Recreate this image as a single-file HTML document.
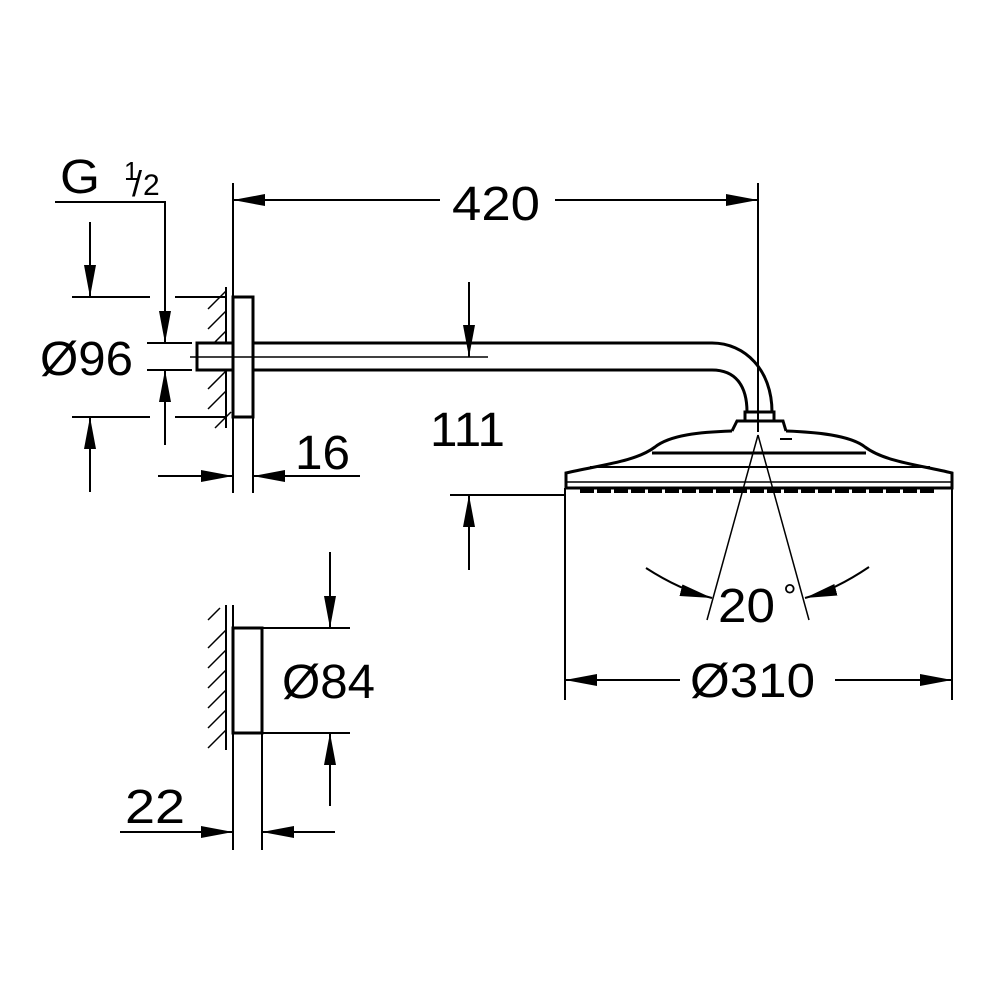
<!DOCTYPE html>
<html><head><meta charset="utf-8"><style>
html,body{margin:0;padding:0;background:#fff}
svg{display:block}
text{font-family:"Liberation Sans",sans-serif;fill:#000}
</style></head><body>
<svg width="1000" height="1000" viewBox="0 0 1000 1000" xmlns="http://www.w3.org/2000/svg">
<defs>
<marker id="a" viewBox="0 0 32 12" refX="32" refY="6" markerWidth="32" markerHeight="12" markerUnits="userSpaceOnUse" orient="auto"><path d="M0,0 L32,6 L0,12 z" fill="#000"/></marker>
</defs>
<g stroke="#000" fill="none" stroke-width="2">
<line x1="233" y1="183" x2="233" y2="493"/>
<line x1="253" y1="417" x2="253" y2="493"/>
<line x1="226" y1="287" x2="226" y2="428"/>
<g stroke-width="1.5">
<line x1="208" y1="309" x2="226" y2="291"/>
<line x1="208" y1="329" x2="226" y2="311"/>
<line x1="208" y1="349" x2="226" y2="331"/>
<line x1="208" y1="389" x2="226" y2="371"/>
<line x1="208" y1="409" x2="226" y2="391"/>
<line x1="215" y1="428" x2="231" y2="412"/>
</g>
<rect x="233" y="297" width="20" height="120" stroke-width="3"/>
<rect x="197" y="343" width="36" height="27" stroke-width="3" fill="#fff"/>
<path d="M253,343 L712,343 C745,343 772,370 772,412" stroke-width="3"/>
<path d="M253,370 L712,370 C735,370 747,385 747,412" stroke-width="3"/>
<line x1="190" y1="357" x2="488" y2="357" stroke-width="1.5"/>
<rect x="745" y="412" width="29" height="9" stroke-width="3"/>
<path d="M732,431 L737,421 L783,421 L786,431" stroke-width="3"/>
<path d="M732,431 C700,432 670,435 655,447 C635,462 600,465 566,473 L566,488 L952,488 L952,473 C920,465 885,462 865,447 C850,435 815,432 786,431" stroke-width="3"/>
<line x1="652" y1="453" x2="866" y2="453" stroke-width="3"/>
<line x1="590" y1="467" x2="930" y2="467" stroke-width="2"/>
<line x1="566" y1="482" x2="952" y2="482" stroke-width="1.5"/>
<line x1="780" y1="439" x2="792" y2="439"/>
<line x1="580" y1="491" x2="935" y2="491" stroke-width="4" stroke-dasharray="14,3"/>
<line x1="758" y1="183" x2="758" y2="432"/>
<line x1="758" y1="435" x2="707" y2="620" stroke-width="1.5"/>
<line x1="758" y1="435" x2="809" y2="620" stroke-width="1.5"/>
<line x1="440" y1="200" x2="233" y2="200" marker-end="url(#a)"/>
<line x1="555" y1="200" x2="758" y2="200" marker-end="url(#a)"/>
<polyline points="55,202 165,202 165,343" marker-end="url(#a)"/>
<line x1="72" y1="297" x2="150" y2="297"/><line x1="175" y1="297" x2="225" y2="297"/>
<line x1="72" y1="417" x2="150" y2="417"/><line x1="175" y1="417" x2="225" y2="417"/>
<line x1="90" y1="222" x2="90" y2="297" marker-end="url(#a)"/>
<line x1="90" y1="492" x2="90" y2="417" marker-end="url(#a)"/>
<line x1="147" y1="343" x2="192" y2="343"/><line x1="147" y1="370" x2="192" y2="370"/>
<line x1="165" y1="445" x2="165" y2="370" marker-end="url(#a)"/>
<line x1="158" y1="476" x2="233" y2="476" marker-end="url(#a)"/>
<line x1="360" y1="476" x2="253" y2="476" marker-end="url(#a)"/>
<line x1="469" y1="282" x2="469" y2="357" marker-end="url(#a)"/>
<line x1="450" y1="495" x2="566" y2="495"/>
<line x1="469" y1="570" x2="469" y2="495" marker-end="url(#a)"/>
<path d="M646,568 Q680,590 712,598" marker-end="url(#a)"/>
<path d="M869,567 Q835,590 805,598" marker-end="url(#a)"/>
<line x1="565" y1="488" x2="565" y2="700"/>
<line x1="952" y1="488" x2="952" y2="700"/>
<line x1="680" y1="680" x2="565" y2="680" marker-end="url(#a)"/>
<line x1="835" y1="680" x2="952" y2="680" marker-end="url(#a)"/>
<line x1="226" y1="605" x2="226" y2="750"/>
<line x1="233" y1="605" x2="233" y2="850"/>
<line x1="262" y1="733" x2="262" y2="850"/>
<g stroke-width="1.5">
<line x1="208" y1="620" x2="220" y2="608"/>
<line x1="208" y1="648" x2="226" y2="630"/>
<line x1="208" y1="668" x2="226" y2="650"/>
<line x1="208" y1="688" x2="226" y2="670"/>
<line x1="208" y1="708" x2="226" y2="690"/>
<line x1="208" y1="728" x2="226" y2="710"/>
<line x1="208" y1="748" x2="226" y2="730"/>
</g>
<rect x="233" y="628" width="29" height="105" stroke-width="3"/>
<line x1="262" y1="628" x2="350" y2="628"/>
<line x1="262" y1="733" x2="350" y2="733"/>
<line x1="330" y1="552" x2="330" y2="628" marker-end="url(#a)"/>
<line x1="330" y1="806" x2="330" y2="733" marker-end="url(#a)"/>
<line x1="120" y1="832" x2="233" y2="832" marker-end="url(#a)"/>
<line x1="335" y1="832" x2="262" y2="832" marker-end="url(#a)"/>
</g>
<g font-size="48">
<text x="452" y="220" textLength="88" lengthAdjust="spacingAndGlyphs">420</text>
<text x="60" y="193" textLength="40" lengthAdjust="spacingAndGlyphs">G</text>
<text x="124" y="180" font-size="26">1</text>
<text x="132" y="196" font-size="36">/</text>
<text x="143" y="195" font-size="30">2</text>
<text x="40" y="375" textLength="93" lengthAdjust="spacingAndGlyphs">Ø96</text>
<text x="295" y="469" textLength="55" lengthAdjust="spacingAndGlyphs">16</text>
<text x="430" y="446" textLength="75" lengthAdjust="spacingAndGlyphs">111</text>
<text x="718" y="622" textLength="57" lengthAdjust="spacingAndGlyphs">20</text>
<text x="783" y="608" font-size="34">°</text>
<text x="690" y="697" textLength="125" lengthAdjust="spacingAndGlyphs">Ø310</text>
<text x="282" y="698" textLength="93" lengthAdjust="spacingAndGlyphs">Ø84</text>
<text x="125" y="823" textLength="60" lengthAdjust="spacingAndGlyphs">22</text>
</g>
</svg>
</body></html>
